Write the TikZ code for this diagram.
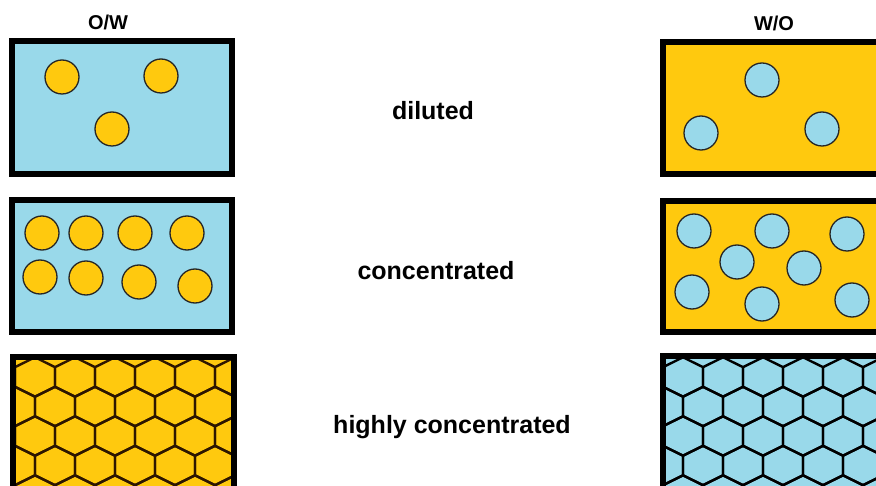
\documentclass[tikz,border=0pt]{standalone}
\usepackage{fontspec}
\setmainfont{Liberation Sans}
\usetikzlibrary{calc}

\definecolor{wasser}{RGB}{153,217,234}
\definecolor{oel}{RGB}{255,201,14}
\definecolor{braun}{RGB}{45,22,0}

\begin{document}
\begin{tikzpicture}[
    x=1pt, y=-1pt, % pixel coordinates, y downwards
    box/.style={line width=6pt, black}, % frame of a sample
    drop/.style={line width=1.3pt, black!85}, % droplet outline
    wabe/.style={line width=2.4pt, line join=miter}, % honeycomb lines
    title/.style={font=\fontsize{20}{24}\selectfont\bfseries, anchor=base},
    caption/.style={font=\fontsize{25}{30}\selectfont\bfseries, anchor=base},
  ]
  \useasboundingbox (0,0) rectangle (876,486);
  \clip (0,0) rectangle (876,486);

  % Größen
  \def\rad{17pt}
  \def\hw{20}
  \def\hq{9.85}
  \def\hh{19.7}

  % Ecken der Kästen
  \coordinate (L1a) at (12,41);  \coordinate (L1b) at (232,174);
  \coordinate (L2a) at (12,200); \coordinate (L2b) at (232,332);
  \coordinate (L3a) at (13,357); \coordinate (L3b) at (234,500);
  \coordinate (R1a) at (663,42);  \coordinate (R1b) at (890,174);
  \coordinate (R2a) at (663,201); \coordinate (R2b) at (890,332);
  \coordinate (R3a) at (663,356); \coordinate (R3b) at (890,500);

  % O/W verdünnt und konzentriert
  \fill[wasser] (L1a) rectangle (L1b);
  \fill[wasser] (L2a) rectangle (L2b);
  \foreach \p in {(62,77),(161,76),(112,129)}
    \draw[drop, fill=oel] \p circle[radius=\rad];
  \foreach \p in {(42,233),(86,233),(135,233),(187,233),(40,277),(86,278),(139,282),(195,286)}
    \draw[drop, fill=oel] \p circle[radius=\rad];

  % W/O verdünnt und konzentriert
  \fill[oel] (R1a) rectangle (R1b);
  \fill[oel] (R2a) rectangle (R2b);
  \foreach \p in {(762,80),(701,133),(822,129)}
    \draw[drop, fill=wasser] \p circle[radius=\rad];
  \foreach \p in {(694,231),(772,231),(847,234),(737,262),(804,268),(692,292),(762,304),(852,300)}
    \draw[drop, fill=wasser] \p circle[radius=\rad];

  % O/W hochkonzentriert (Waben)
  \begin{scope}
    \clip (L3a) rectangle (L3b);
    \fill[oel] (L3a) rectangle (L3b);
    \foreach \r in {0,...,4}
      \foreach \c in {-1,...,6} {
        \pgfmathsetmacro\cx{35+40*\c+20*mod(\r,2)}
        \pgfmathsetmacro\cy{377+29.5*\r}
        \draw[wabe, braun] (\cx,\cy-\hh) -- ++(\hw,\hq) -- ++(0,2*\hq)
          -- ++(-\hw,\hq) -- ++(-\hw,-\hq) -- ++(0,-2*\hq) -- cycle;
      }
  \end{scope}

  % W/O hochkonzentriert (Waben)
  \begin{scope}
    \clip (R3a) rectangle (R3b);
    \fill[wasser] (R3a) rectangle (R3b);
    \foreach \r in {0,...,4}
      \foreach \c in {-1,...,6} {
        \pgfmathsetmacro\cx{683+40*\c+20*mod(\r,2)}
        \pgfmathsetmacro\cy{377+29.5*\r}
        \draw[wabe, black] (\cx,\cy-\hh) -- ++(\hw,\hq) -- ++(0,2*\hq)
          -- ++(-\hw,\hq) -- ++(-\hw,-\hq) -- ++(0,-2*\hq) -- cycle;
      }
  \end{scope}

  % Rahmen
  \foreach \i/\j in {L1a/L1b, L2a/L2b, L3a/L3b, R1a/R1b, R2a/R2b, R3a/R3b}
    \draw[box] (\i) rectangle (\j);

  % Beschriftung
  \node[title] (ow) at (108,30) {O/W};
  \node[title] (wo) at (774,31) {W/O};
  \node[caption] (dil) at (433,120) {diluted};
  \node[caption] (conc) at (436,280) {concentrated};
  \node[caption] (high) at (452,433) {highly concentrated};
\end{tikzpicture}
\end{document}
